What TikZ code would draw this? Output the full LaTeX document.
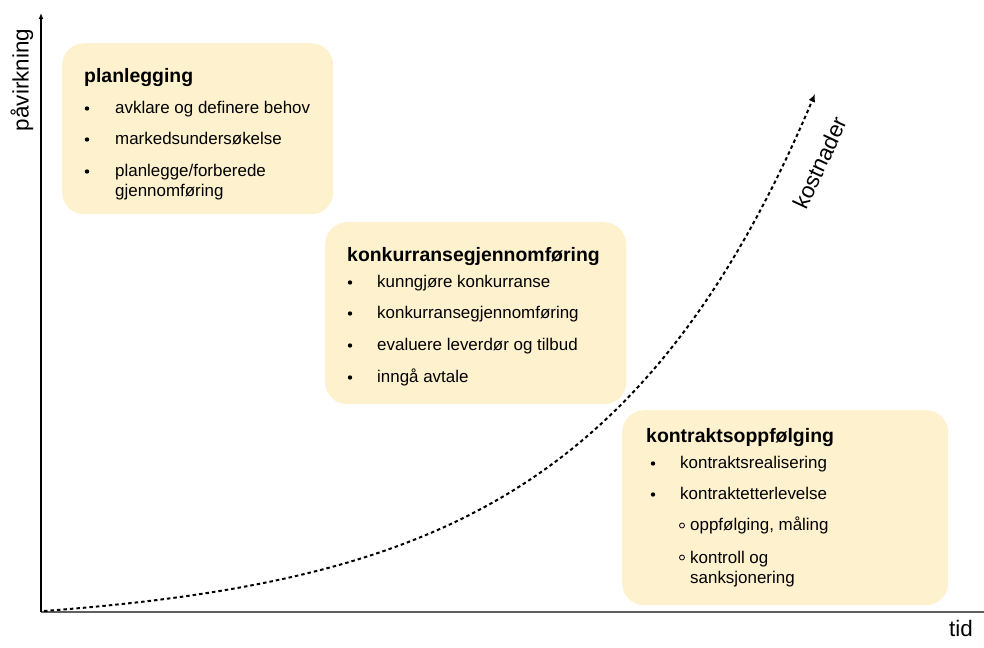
\documentclass[tikz,border=0pt]{standalone}
\usepackage{fontspec}
\setmainfont{Liberation Sans}
\usetikzlibrary{arrows.meta,positioning}
\definecolor{phaseFill}{RGB}{254,241,206}
\definecolor{axisGray}{RGB}{95,95,95}
\tikzset{
	pbox/.style={
		fill=phaseFill,
		rounded corners=22bp,
		anchor=north west,
		inner sep=0pt
	},
	ptitle/.style={anchor=base west, inner sep=0pt, font=\fontsize{19.5}{23}\selectfont\bfseries},
	pitem/.style={anchor=base west, inner sep=0pt, align=left, font=\fontsize{17}{20.5}\selectfont},
	pdot/.style={circle, fill=black, inner sep=0pt, minimum size=4.4bp},
	pring/.style={circle, draw=black, line width=0.8bp, inner sep=0pt, minimum size=5bp},
	alabel/.style={font=\fontsize{22.5}{26}\selectfont, inner sep=0pt},
	carr/.style={-{Latex[length=8bp,width=7bp]}, line width=2bp, dash pattern=on 3.5bp off 3bp}
}

\begin{document}
\begin{tikzpicture}[x=1bp, y=-1bp]
	\useasboundingbox (0,0) rectangle (984,648);
	% axes
	\coordinate (O) at (41,612);
	\coordinate (ytop) at (41,13);
	\coordinate (xend) at (984,612);
	\draw[axisGray, line width=2.5bp] (O) -- (xend);
	\draw[-{Latex[length=6bp,width=5bp]}, line width=1.3bp] (O) -- (ytop);
	\node[alabel, rotate=90] (effect) at (22,80) {påvirkning};
	\node[alabel, anchor=base] (time) at (961,636) {tid};

	% phase boxes
	\node[pbox, minimum width=271bp, minimum height=171bp] (plan) at (62,43) {};
	\node[pbox, minimum width=301bp, minimum height=182bp] (comp) at (325,222) {};
	\node[pbox, minimum width=326bp, minimum height=195bp] (follow) at (622,410) {};

	% planlegging
	\node[ptitle] (planT) at (84,83) {planlegging};
	\node[pdot] (planD1) at (87,108.5) {};
	\node[pitem] (planI1) at (115,113.5) {avklare og definere behov};
	\node[pdot] (planD2) at (87,139.5) {};
	\node[pitem] (planI2) at (115,144.5) {markedsundersøkelse};
	\node[pdot] (planD3) at (87,171.5) {};
	\node[pitem] (planI3) at (115,196.5) {planlegge/forberede\\gjennomføring};

	% konkurransegjennomføring
	\node[ptitle] (compT) at (347,262) {konkurransegjennomføring};
	\node[pdot] (compD1) at (350,282.5) {};
	\node[pitem] (compI1) at (377,287.5) {kunngjøre konkurranse};
	\node[pdot] (compD2) at (350,313.5) {};
	\node[pitem] (compI2) at (377,318.5) {konkurransegjennomføring};
	\node[pdot] (compD3) at (350,345.5) {};
	\node[pitem] (compI3) at (377,350.5) {evaluere leverdør og tilbud};
	\node[pdot] (compD4) at (350,377.5) {};
	\node[pitem] (compI4) at (377,382.5) {inngå avtale};

	% kontraktsoppfølging
	\node[ptitle] (followT) at (646,442) {kontraktsoppfølging};
	\node[pdot] (followD1) at (653,463.5) {};
	\node[pitem] (followI1) at (680,468.5) {kontraktsrealisering};
	\node[pdot] (followD2) at (653,494.5) {};
	\node[pitem] (followI2) at (680,499.5) {kontraktetterlevelse};
	\node[pring] (followR1) at (682,525.5) {};
	\node[pitem] (followS1) at (690,530.5) {oppfølging, måling};
	\node[pring] (followR2) at (682,557.5) {};
	\node[pitem] (followS2) at (690,583.5) {kontroll og\\sanksjonering};

	% cost curve
	\draw[carr] plot[domain=44:815, samples=90, smooth] (\x, {611-16.6*(exp(0.0045*(\x-44))-1)});
	\node[alabel, rotate=65] (cost) at (820,163) {kostnader};
\end{tikzpicture}
\end{document}
